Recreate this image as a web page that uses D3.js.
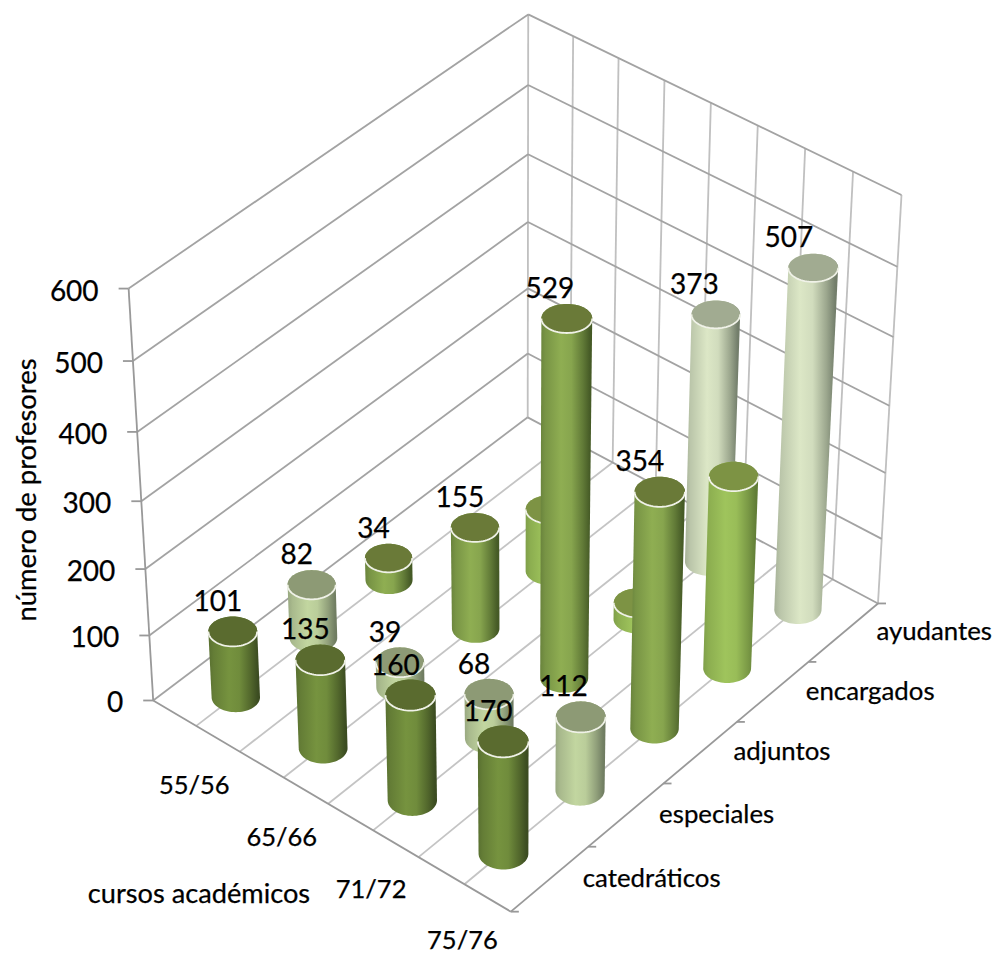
<!DOCTYPE html>
<html lang="es">
<head>
<meta charset="utf-8">
<script src="https://cdn.jsdelivr.net/npm/d3@7/dist/d3.min.js"></script>
<style>
  html, body { margin: 0; padding: 0; background: #fff; }
  svg { display: block; }
  text { font-family: Lato, "Open Sans", sans-serif; fill: #000; stroke: #000; stroke-width: 0.25px; }
</style>
</head>
<body>
<svg id="chart" width="994" height="955"></svg>
<script>
// Teaching staff by academic year and rank
const courses = ["55/56", "65/66", "71/72", "75/76"];
const ranks = ["catedráticos", "especiales", "adjuntos", "encargados", "ayudantes"];
const catedraticos = [101, 135, 160, 170];
const especiales = [82, 39, 68, 112];
const adjuntos = [34, 155, 529, 354];
const encargados = [null, 95, 25, 290];
const ayudantes = [null, null, 373, 507];
const labelled = [true, true, true, false, true];
const rankValues = [catedraticos, especiales, adjuntos, encargados, ayudantes];
const valueTicks = [0, 100, 200, 300, 400, 500, 600];

// Top, side, and shaded tones for each rank's cylinders
const topTones = ["#5a6b2f", "#8d9a75", "#6a7a38", "#7d9344", "#a1ab91"];
const bodyTones = ["#76933f", "#c2d6a0", "#8fae52", "#9fc45c", "#dce7c6"];
const edgeTones = ["#3a4a20", "#6e7a60", "#435825", "#5f7a35", "#6f7a67"];

// Camera anchors: unit-cube corners of the plot box and where they land on the page
const cameraAnchors = [
  [[0, 0, 0], [153, 700]], [[1, 0, 0], [511, 912]], [[0, 1, 0], [528, 418]], [[1, 1, 0], [878, 603]],
  [[0, 0, 1], [129, 289]], [[0, 1, 1], [528, 14]], [[1, 1, 1], [902, 195]],
  [[0, 0, .5], [141, 501]], [[0, 1, .5], [528, 222]], [[1, 1, 1 / 6 * 5], [897, 267]], [[1, 1, 4 / 6], [893, 337]]
];

// Least-squares fit of a 3x4 projective camera with its last element fixed to 1
function fitCamera(anchors) {
  const rows = [], rhs = [];
  anchors.forEach(([[x, y, z], [px, py]]) => {
    const u = px / 1000, v = py / 1000;
    rows.push([x, y, z, 1, 0, 0, 0, 0, -u * x, -u * y, -u * z]); rhs.push(u);
    rows.push([0, 0, 0, 0, x, y, z, 1, -v * x, -v * y, -v * z]); rhs.push(v);
  });
  const n = 11;
  const m = d3.range(n).map(i => d3.range(n + 1).map(j =>
    d3.sum(rows, (r, k) => r[i] * (j < n ? r[j] : rhs[k]))));
  for (let c = 0; c < n; c++) {
    let p = c;
    for (let r = c + 1; r < n; r++) if (Math.abs(m[r][c]) > Math.abs(m[p][c])) p = r;
    [m[c], m[p]] = [m[p], m[c]];
    for (let r = 0; r < n; r++) {
      if (r === c) continue;
      const f = m[r][c] / m[c][c];
      for (let k = c; k <= n; k++) m[r][k] -= f * m[c][k];
    }
  }
  return d3.range(n).map(i => m[i][n] / m[i][i]);
}
const cam = fitCamera(cameraAnchors);
function project(x, y, z) {
  const w = cam[8] * x + cam[9] * y + cam[10] * z + 1;
  return [
    1000 * (cam[0] * x + cam[1] * y + cam[2] * z + cam[3]) / w,
    1000 * (cam[4] * x + cam[5] * y + cam[6] * z + cam[7]) / w
  ];
}

const courseScale = d3.scaleBand().domain(courses).range([0, 1]);
const rankScale = d3.scaleBand().domain(ranks).range([0, 1]);
const valueScale = d3.scaleLinear().domain([0, 600]).range([0, 1]);
const radiusX = 0.0512, radiusY = 0.042, flatten = 0.92, barDrop = 1.5;

const svg = d3.select("#chart");
const defs = svg.append("defs");
const line = d3.line();

function seg(g, a, b, stroke, width) {
  g.append("path").attr("d", line([a, b])).attr("fill", "none")
    .attr("stroke", stroke).attr("stroke-width", width);
}

// Walls and floor grid
const grid = svg.append("g");
const gridColor = "#a3a3a3", wallColor = "#c0c0c0", floorColor = "#c4c4c4", edgeColor = "#999999";
d3.range(0, 9).forEach(i => {
  const x = i / 8;
  if (i > 0 && i < 8) seg(grid, project(x, 0, 0), project(x, 1, 0), floorColor, 1.8);
  seg(grid, project(x, 1, 0), project(x, 1, 1), wallColor, 1.8);
});
valueTicks.forEach(v => {
  const z = valueScale(v);
  seg(grid, project(0, 0, z), project(0, 1, z), gridColor, 1.8);
  seg(grid, project(0, 1, z), project(1, 1, z), gridColor, 1.8);
  const a = project(0, 0, z);
  seg(grid, [a[0] - 10, a[1]], a, edgeColor, 1.8);
});
seg(grid, project(0, 0, 0), project(0, 0, 1), edgeColor, 1.8);
seg(grid, project(0, 0, 0), project(1, 0, 0), edgeColor, 1.8);
seg(grid, project(1, 0, 0), project(1, 1, 0), edgeColor, 1.8);
d3.range(0, 6).forEach(i => {
  const a = project(1, i / 5, 0);
  seg(grid, a, [a[0] + 8, a[1]], edgeColor, 1.8);
});

// Cylinders, painted from the farthest base to the nearest
const bars = [];
ranks.forEach((rank, r) => courses.forEach((course, c) => {
  const value = rankValues[r][c];
  if (value === null) return;
  bars.push({
    r, value, labelled: labelled[r],
    x: courseScale(course) + courseScale.bandwidth() / 2,
    y: rankScale(rank) + rankScale.bandwidth() / 2
  });
}));
bars.forEach(b => { b.base = project(b.x, b.y, 0); b.top = project(b.x, b.y, valueScale(b.value)); });
bars.sort((a, b) => d3.ascending(a.base[1], b.base[1]));

const angles = d3.range(0, 72).map(k => k / 72 * 2 * Math.PI);

// Level ellipse at height z: sized by the projected world circle, kept axis-aligned on the page
function ring(b, z) {
  const circle = angles.map(t => project(b.x + radiusX * Math.cos(t), b.y + radiusY * Math.sin(t), z));
  const [x0, x1] = d3.extent(circle, p => p[0]);
  const [y0, y1] = d3.extent(circle, p => p[1]);
  const c = project(b.x, b.y, z);
  return angles.map(t => [
    c[0] + (x1 - x0) / 2 * Math.cos(t),
    c[1] + barDrop + (y1 - y0) / 2 * flatten * Math.sin(t)
  ]);
}

const barLayer = svg.append("g");
bars.forEach((b, i) => {
  const topRing = ring(b, valueScale(b.value));
  const hull = d3.polygonHull(topRing.concat(ring(b, 0)));
  const id = "shade" + i;
  const [x0, x1] = d3.extent(hull, p => p[0]);
  const mix = d3.interpolateRgb(bodyTones[b.r], edgeTones[b.r]);
  const stops = [[0, mix(.5)], [.1, mix(.3)], [.4, mix(0)], [.6, mix(.1)], [.82, mix(.6)], [.95, mix(.95)], [1, mix(1)]];
  const grad = defs.append("linearGradient").attr("id", id)
    .attr("gradientUnits", "userSpaceOnUse")
    .attr("x1", x0).attr("x2", x1).attr("y1", 0).attr("y2", 0);
  stops.forEach(([o, col]) => grad.append("stop").attr("offset", o).attr("stop-color", col));

  barLayer.append("path").attr("d", line(hull) + "Z").attr("fill", `url(#${id})`);
  barLayer.append("path").attr("d", line(topRing) + "Z").attr("fill", topTones[b.r]);
  const rim = topRing.filter(p => p[1] >= b.top[1] + barDrop - 1).sort((p, q) => d3.ascending(p[0], q[0]));
  barLayer.append("path").attr("d", line(rim)).attr("fill", "none")
    .attr("stroke", "#f0f2e8").attr("stroke-width", 1.8);
});

// Value labels above the cylinders, on top of every mark
const labelSize = 28;
bars.filter(b => b.labelled).forEach(b => {
  const dx = b.top[0] <= 500 ? -15 : -15 - (b.top[0] - 500) * 0.03;
  svg.append("text").attr("x", b.top[0] + dx).attr("y", b.top[1] - 30)
    .attr("text-anchor", "middle").attr("dominant-baseline", "central")
    .attr("font-size", labelSize).text(b.value);
});

// Axis labels
valueTicks.forEach(v => {
  const a = project(0, 0, valueScale(v));
  svg.append("text").attr("x", a[0] - 30).attr("y", a[1] + 1)
    .attr("text-anchor", "end").attr("dominant-baseline", "central")
    .attr("font-size", labelSize).text(v);
});
courses.forEach(course => {
  const a = project(courseScale(course) + courseScale.bandwidth() / 2, 0, 0);
  svg.append("text").attr("x", a[0] - 2).attr("y", Math.min(a[1] + 58, 939))
    .attr("text-anchor", "middle").attr("dominant-baseline", "central")
    .attr("font-size", 25.5).text(course);
});
ranks.forEach(rank => {
  const a = project(1, rankScale(rank) + rankScale.bandwidth() / 2, 0);
  svg.append("text").attr("x", a[0] + 33).attr("y", a[1] - 2)
    .attr("dominant-baseline", "central")
    .attr("font-size", 25.8).text(rank);
});
svg.append("text").attr("x", 199).attr("y", 892)
  .attr("text-anchor", "middle").attr("dominant-baseline", "central")
  .attr("font-size", 27.2).text("cursos académicos");
svg.append("text").attr("transform", "translate(25,490) rotate(-90)")
  .attr("text-anchor", "middle").attr("dominant-baseline", "central")
  .attr("font-size", 27.4).text("número de profesores");
</script>
</body>
</html>
